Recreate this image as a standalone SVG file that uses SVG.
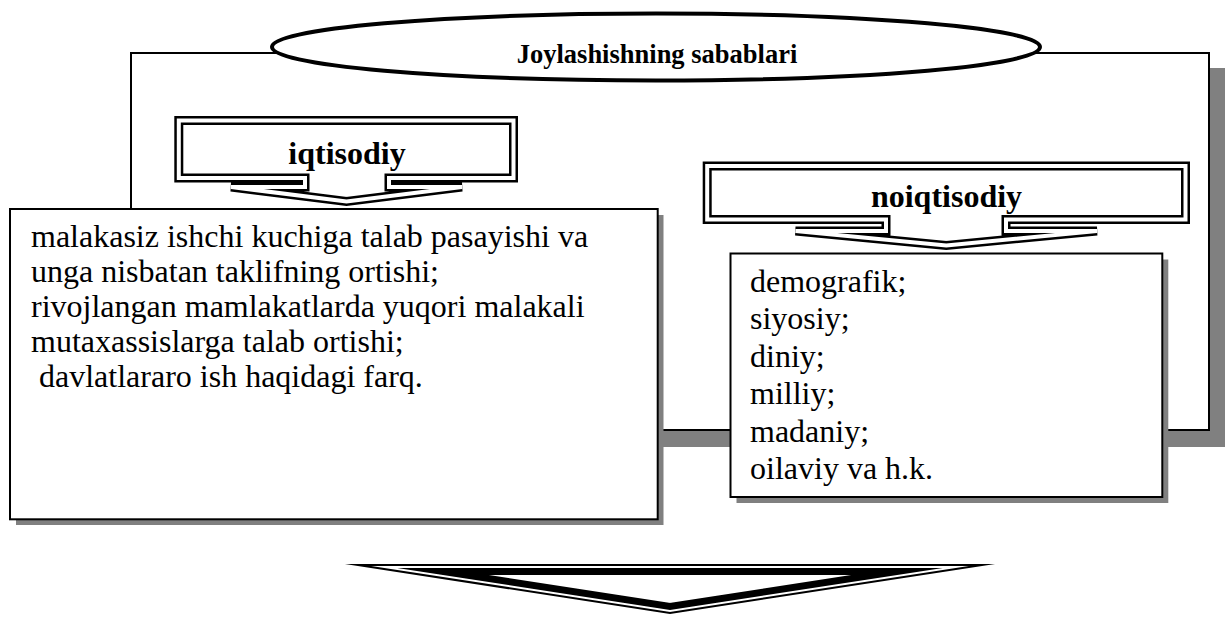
<svg xmlns="http://www.w3.org/2000/svg" width="1225" height="617" viewBox="0 0 1225 617">
<style>
.bg{fill:#fff}
.shadow{fill:#808080}
.box{fill:#fff;stroke:#000;stroke-width:2}
.title-ell{fill:#fff;stroke:#000;stroke-width:4}
.txt{font-family:"Liberation Serif","Times New Roman",serif;font-size:32px;fill:#000}
.bold{font-weight:bold}
.title-txt{font-size:26.5px}
.dblk{fill:#fff;stroke:#000;stroke-width:9;stroke-linejoin:miter}
.dblw{fill:none;stroke:#fff;stroke-width:4;stroke-linejoin:miter}
.thin{fill:#fff;stroke:#000;stroke-width:2;stroke-linejoin:miter;stroke-miterlimit:20}
.thick{fill:none;stroke:#000;stroke-width:7;stroke-linejoin:miter;stroke-miterlimit:20}
</style>
<defs>
<path id="callout-iq" d="M178.8,120.5 H513.5 V178 H389 V187 H462 L346.5,201.5 L231,187 H305 V178 H178.8 Z"/>
<path id="callout-noiq" d="M707.2,166 H1185.5 V219.5 H1006 V231 H1097 L946.3,245.5 L795.5,231 H886 V219.5 H707.2 Z"/>
</defs>
<rect class="bg" x="0" y="0" width="1225" height="617"/>

<g id="frame">
<rect class="shadow" x="146" y="68" width="1079" height="379"/>
<rect class="box" x="131" y="53" width="1078" height="377"/>
</g>

<g id="title">
<ellipse class="title-ell" cx="656" cy="47" rx="384" ry="33.5"/>
<text class="txt bold title-txt" x="657" y="62.5" text-anchor="middle">Joylashishning sabablari</text>
</g>

<g id="iqtisodiy">
<use href="#callout-iq" class="dblk"/>
<use href="#callout-iq" class="dblw"/>
<text class="txt bold" x="347" y="163.5" text-anchor="middle">iqtisodiy</text>
</g>

<g id="noiqtisodiy">
<use href="#callout-noiq" class="dblk"/>
<use href="#callout-noiq" class="dblw"/>
<text class="txt bold" x="946.5" y="207" text-anchor="middle">noiqtisodiy</text>
</g>

<g id="iqtisodiy-list">
<rect class="shadow" x="16" y="215" width="647.5" height="310"/>
<rect class="box" x="10" y="209" width="647.7" height="310.3"/>
<text class="txt" x="31" y="246.7">malakasiz ishchi kuchiga talab pasayishi va</text>
<text class="txt" x="31" y="281.7">unga nisbatan taklifning ortishi;</text>
<text class="txt" x="31" y="316.7">rivojlangan mamlakatlarda yuqori malakali</text>
<text class="txt" x="31" y="351.7">mutaxassislarga talab ortishi;</text>
<text class="txt" x="31" y="386.7" xml:space="preserve"> davlatlararo ish haqidagi farq.</text>
</g>

<g id="noiqtisodiy-list">
<rect class="shadow" x="736.5" y="259.5" width="431.8" height="243.5"/>
<rect class="box" x="730.5" y="253.5" width="431.8" height="243.5"/>
<text class="txt" x="750" y="291.5">demografik;</text>
<text class="txt" x="750" y="329">siyosiy;</text>
<text class="txt" x="750" y="366.5">diniy;</text>
<text class="txt" x="750" y="404">milliy;</text>
<text class="txt" x="750" y="441.5">madaniy;</text>
<text class="txt" x="750" y="479">oilaviy va h.k.</text>
</g>

<g id="connectors">
<path class="thin" d="M358,565 L982,565 L670,613 Z"/>
<path class="thick" d="M442.97,571.5 L897.03,571.5 L670,606.43 Z"/>
</g>
</svg>
